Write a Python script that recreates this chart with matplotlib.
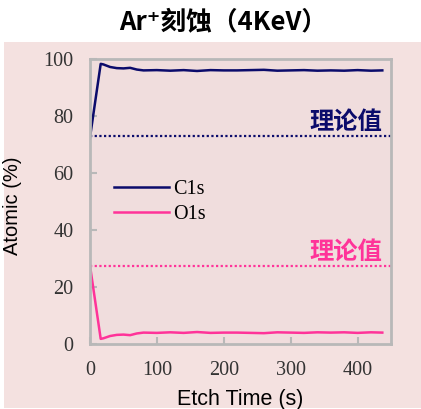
import matplotlib
matplotlib.use("Agg")
import matplotlib.pyplot as plt
from matplotlib.patches import Rectangle

# etch time (s) and atomic %
t = [0, 16, 20, 30, 40, 50, 60, 70, 80, 100, 120, 140, 160, 180, 200, 220,
     240, 260, 280, 300, 320, 340, 360, 380, 400, 420, 437]
c1s = [72.5, 98.3, 98.1, 97.2, 96.8, 96.7, 96.9, 96.3, 96.0, 96.1, 95.9, 96.1,
       95.8, 96.1, 96.0, 96.0, 96.1, 96.2, 95.9, 96.0, 96.1, 95.9, 96.0, 95.9,
       96.1, 95.9, 96.0]
o1s = [27.5, 1.8, 2.0, 2.8, 3.2, 3.3, 3.1, 3.7, 4.0, 3.9, 4.1, 3.9, 4.2, 3.9,
       4.0, 4.0, 3.9, 3.8, 4.1, 4.0, 3.9, 4.1, 4.0, 4.1, 3.9, 4.1, 4.0]
theory_c = 73
theory_o = 27.5

navy = "#0b0b6b"
pink = "#ff3399"

fig = plt.figure(figsize=(4.21, 4.09), dpi=100)
fig.patch.set_facecolor("white")
fig.patches.append(Rectangle((4 / 421, 0.003), 417 / 421, 1 - 42 / 409 - 0.003,
                             transform=fig.transFigure, facecolor="#f4e1e0",
                             edgecolor="none", zorder=-10))

ax = fig.add_axes([90 / 421, 1 - 344 / 409, 301 / 421, 285 / 409])
ax.set_facecolor("#f0dddd")

ax.plot(t, c1s, color=navy, lw=1.8, label="C1s")
ax.plot(t, o1s, color=pink, lw=1.8, label="O1s")
ax.axhline(theory_c, color=navy, lw=1.6, ls=(0, (1, 1.1)))
ax.axhline(theory_o, color=pink, lw=1.6, ls=(0, (1, 1.1)))

ax.text(437, theory_c + 4.8, "理论值", color=navy, fontsize=17.5, fontweight="bold",
        ha="right", va="center", family=["Noto Sans CJK SC"])
ax.text(437, theory_o + 4.8, "理论值", color=pink, fontsize=17.5, fontweight="bold",
        ha="right", va="center", family=["Noto Sans CJK SC"])

ax.set_xlim(0, 450)
ax.set_ylim(0, 100)
ax.set_xticks([0, 100, 200, 300, 400])
ax.set_yticks([0, 20, 40, 60, 80, 100])
for s in ax.spines.values():
    s.set_color("#b8b8b8")
    s.set_linewidth(2)
ax.tick_params(direction="in", length=5, width=1.5, color="#b8b8b8",
               labelcolor="#333333", pad=12)
for lab in ax.get_xticklabels() + ax.get_yticklabels():
    lab.set_family("Liberation Serif")
    lab.set_fontsize(14.5)

ax.set_xlabel("Etch Time (s)", fontsize=15.5, family="Liberation Sans", labelpad=7)
ax.set_ylabel("Atomic (%)", fontsize=14.5, family="Liberation Sans")
ax.yaxis.set_label_coords(-0.225, 0.485)

leg = ax.legend(loc="upper left", bbox_to_anchor=(0.02, 0.64), frameon=False,
                handlelength=2.7, prop={"family": "Liberation Serif", "size": 14.5},
                labelspacing=0.3, handletextpad=0.25)

fig.text(223 / 421, 1 - 22 / 409, "Ar⁺刻蚀（4KeV）", ha="center", va="center",
         fontsize=18.5, fontweight="bold", family=["Noto Sans CJK SC", "DejaVu Sans"])

fig.savefig("out.png", dpi=100, facecolor="white")
